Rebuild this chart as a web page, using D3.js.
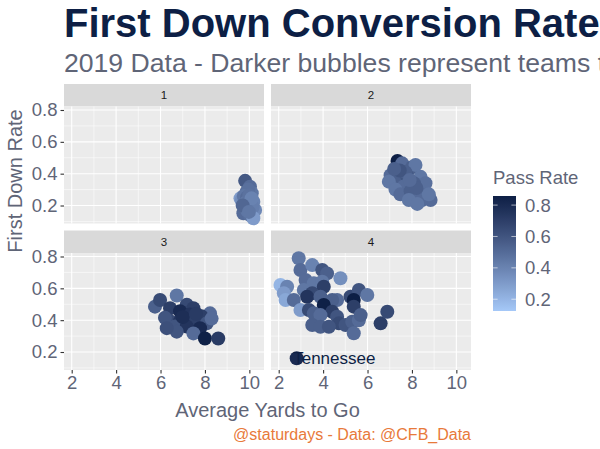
<!DOCTYPE html>
<html>
<head>
<meta charset="utf-8">
<script src="https://cdn.jsdelivr.net/npm/d3@7"></script>
<style>
  html, body { margin: 0; padding: 0; background: #fff; }
  svg { display: block; font-family: "Liberation Sans", Arial, sans-serif; }
</style>
</head>
<body>
<svg id="chart" width="600" height="449"></svg>
<script>
// ---------------- DATA ----------------
const downs = ["1", "2", "3", "4"];
const xTicks = [2, 4, 6, 8, 10];
const yTicks = [0.2, 0.4, 0.6, 0.8];
const legendTicks = [0.2, 0.4, 0.6, 0.8];

// Down 1
const down1Yards = [9.81, 10.03, 9.88, 10.11, 9.95, 9.6, 9.66, 9.75, 10.18, 9.9, 9.96, 10.05, 9.81, 10.26, 9.73, 9.92, 10.03, 10.15, 10.18, 9.85, 10.0, 10.1, 9.7, 9.98];
const down1Rate  = [0.355, 0.318, 0.287, 0.277, 0.30, 0.245, 0.235, 0.26, 0.224, 0.25, 0.203, 0.21, 0.183, 0.172, 0.151, 0.165, 0.14, 0.19, 0.12, 0.22, 0.265, 0.245, 0.2, 0.16];
const down1Pass  = [0.58, 0.5, 0.5, 0.45, 0.48, 0.3, 0.35, 0.45, 0.4, 0.5, 0.42, 0.45, 0.55, 0.38, 0.5, 0.45, 0.48, 0.42, 0.3, 0.45, 0.47, 0.4, 0.52, 0.45];

// Down 2
const down2Yards = [7.35, 7.56, 8.01, 8.16, 7.04, 7.34, 6.96, 7.79, 8.39, 8.61, 8.09, 7.63, 7.26, 7.48, 7.94, 8.31, 7.86, 8.46, 8.84, 8.76, 8.24, 7.7, 7.45, 8.2, 7.9, 7.2];
const down2Rate  = [0.48, 0.465, 0.44, 0.455, 0.39, 0.36, 0.35, 0.38, 0.38, 0.34, 0.34, 0.32, 0.30, 0.27, 0.29, 0.277, 0.235, 0.235, 0.235, 0.27, 0.21, 0.41, 0.42, 0.31, 0.36, 0.43];
const down2Pass  = [0.86, 0.5, 0.55, 0.45, 0.5, 0.55, 0.45, 0.6, 0.45, 0.48, 0.55, 0.5, 0.45, 0.5, 0.55, 0.5, 0.45, 0.5, 0.5, 0.45, 0.45, 0.55, 0.6, 0.55, 0.5, 0.55];

// Down 3
const down3Yards = [5.75, 5.98, 6.73, 6.43, 7.18, 7.48, 8.23, 6.88, 7.33, 7.85, 6.43, 6.2, 6.88, 7.48, 8.08, 8.3, 6.65, 7.18, 7.78, 6.73, 7.48, 8.0, 8.6, 6.28, 7.0, 7.6];
const down3Rate  = [0.485, 0.527, 0.555, 0.475, 0.497, 0.475, 0.443, 0.456, 0.435, 0.424, 0.393, 0.415, 0.393, 0.40, 0.38, 0.41, 0.36, 0.36, 0.35, 0.328, 0.317, 0.285, 0.285, 0.35, 0.42, 0.44];
const down3Pass  = [0.55, 0.65, 0.45, 0.7, 0.65, 0.7, 0.5, 0.8, 0.75, 0.7, 0.65, 0.6, 0.75, 0.7, 0.6, 0.5, 0.6, 0.75, 0.8, 0.6, 0.5, 0.85, 0.72, 0.62, 0.78, 0.72];

// Down 4
const down4Yards = [2.9, 2.98, 3.51, 3.96, 4.18, 4.78, 2.08, 2.38, 3.21, 3.58, 3.96, 2.23, 3.13, 3.51, 4.03, 2.31, 2.68, 3.28, 3.88, 4.63, 4.41, 5.23, 5.61, 5.99, 5.38, 5.38, 4.03, 2.98, 3.36, 3.58, 4.41, 4.63, 3.88, 3.51, 3.88, 4.71, 5.01, 5.31, 5.61, 5.38, 6.59, 6.89, 4.26, 5.69, 2.81];
const down4Rate  = [0.789, 0.715, 0.746, 0.715, 0.694, 0.663, 0.621, 0.61, 0.652, 0.632, 0.642, 0.569, 0.59, 0.569, 0.61, 0.527, 0.527, 0.547, 0.547, 0.527, 0.527, 0.547, 0.59, 0.558, 0.527, 0.485, 0.495, 0.464, 0.464, 0.443, 0.453, 0.422, 0.432, 0.37, 0.359, 0.38, 0.37, 0.39, 0.40, 0.318, 0.38, 0.453, 0.359, 0.432, 0.161];
const down4Pass  = [0.45, 0.5, 0.4, 0.6, 0.55, 0.35, 0.2, 0.4, 0.5, 0.45, 0.45, 0.3, 0.45, 0.65, 0.7, 0.25, 0.5, 0.75, 0.55, 0.5, 0.55, 0.65, 0.6, 0.45, 0.86, 0.7, 0.85, 0.3, 0.65, 0.55, 0.7, 0.6, 0.5, 0.55, 0.55, 0.65, 0.6, 0.55, 0.5, 0.5, 0.7, 0.65, 0.6, 0.55, 0.8];

const labelTeam = "Tennessee";
const labelDown = "4";
const labelIndex = 44;

const passRange = [0.125, 0.858];

// ---------------- CHART ----------------
const svg = d3.select("#chart");

const panelW = 200, panelH = 117, stripH = 22.5, gap = 7;
const left0 = 64, top0 = 84;

const x = d3.scaleLinear().domain([1.653, 10.66]).range([0, panelW]);
const y = d3.scaleLinear().domain([0.087, 0.822]).range([panelH, 0]);
const color = d3.scaleLinear().domain(passRange).range(["#a5c8f8", "#0d1f45"]).interpolate(d3.interpolateLab);

const series = {
  "1": { yards: down1Yards, rate: down1Rate, pass: down1Pass },
  "2": { yards: down2Yards, rate: down2Rate, pass: down2Pass },
  "3": { yards: down3Yards, rate: down3Rate, pass: down3Pass },
  "4": { yards: down4Yards, rate: down4Rate, pass: down4Pass }
};

const textGrey = "#5f6577";

// Title & subtitle
svg.append("text").attr("x", 64).attr("y", 37)
  .attr("font-size", 40).attr("font-weight", "bold").attr("fill", "#0d1f45")
  .text("First Down Conversion Rate");
svg.append("text").attr("x", 64).attr("y", 72)
  .attr("font-size", 26.6).attr("fill", textGrey)
  .text("2019 Data - Darker bubbles represent teams that");

downs.forEach((d, i) => {
  const col = i % 2, row = Math.floor(i / 2);
  const px = left0 + col * (panelW + gap);
  const sy = top0 + row * (stripH + panelH + gap);
  const py = sy + stripH;

  // strip
  svg.append("rect").attr("x", px).attr("y", sy).attr("width", panelW).attr("height", stripH).attr("fill", "#d9d9d9");
  svg.append("text").attr("x", px + panelW / 2).attr("y", sy + stripH / 2 + 4)
    .attr("text-anchor", "middle").attr("font-size", 11.5).attr("fill", "#1a1a1a").text(d);

  const g = svg.append("g").attr("transform", `translate(${px},${py})`);
  g.append("rect").attr("width", panelW).attr("height", panelH).attr("fill", "#ebebeb");

  // minor grid
  const xMinor = [3, 5, 7, 9];
  const yMinor = [0.1, 0.3, 0.5, 0.7];
  g.selectAll(".xm").data(xMinor).enter().append("line")
    .attr("x1", v => x(v)).attr("x2", v => x(v)).attr("y1", 0).attr("y2", panelH)
    .attr("stroke", "#fff").attr("stroke-width", 0.55);
  g.selectAll(".ym").data(yMinor).enter().append("line")
    .attr("y1", v => y(v)).attr("y2", v => y(v)).attr("x1", 0).attr("x2", panelW)
    .attr("stroke", "#fff").attr("stroke-width", 0.55);
  // major grid
  g.selectAll(".xM").data(xTicks).enter().append("line")
    .attr("x1", v => x(v)).attr("x2", v => x(v)).attr("y1", 0).attr("y2", panelH)
    .attr("stroke", "#fff").attr("stroke-width", 1.1);
  g.selectAll(".yM").data(yTicks).enter().append("line")
    .attr("y1", v => y(v)).attr("y2", v => y(v)).attr("x1", 0).attr("x2", panelW)
    .attr("stroke", "#fff").attr("stroke-width", 1.1);

  // points
  const s = series[d];
  const pts = s.yards.map((v, k) => ({ x: v, y: s.rate[k], p: s.pass[k], k }));
  g.selectAll("circle.pt").data(pts).enter().append("circle")
    .attr("class", "pt")
    .attr("cx", p => x(p.x)).attr("cy", p => y(p.y)).attr("r", 7)
    .attr("fill", p => color(p.p));

  if (d === labelDown) {
    const p = pts[labelIndex];
    g.append("text").attr("x", x(p.x)).attr("y", y(p.y)).attr("dx", -3.5).attr("dy", 6)
      .attr("font-size", 17).attr("fill", "#0d1f45").text(labelTeam);
  }

  // axes
  if (col === 0) {
    const ay = d3.axisLeft(y).tickValues(yTicks).tickSize(3.5).tickPadding(3).tickFormat(d3.format(".1f"));
    const ag = svg.append("g").attr("transform", `translate(${px},${py})`).call(ay);
    ag.select(".domain").remove();
    ag.selectAll("line").attr("stroke", "#333").attr("stroke-width", 1.1);
    ag.selectAll("text").attr("font-size", 18.5).attr("fill", textGrey).attr("font-family", "Liberation Sans, Arial, sans-serif");
  }
  if (row === 1) {
    const ax = d3.axisBottom(x).tickValues(xTicks).tickSize(3.5).tickPadding(2).tickFormat(d3.format("d"));
    const ag = svg.append("g").attr("transform", `translate(${px},${py + panelH})`).call(ax);
    ag.select(".domain").remove();
    ag.selectAll("line").attr("stroke", "#333").attr("stroke-width", 1.1);
    ag.selectAll("text").attr("font-size", 18.5).attr("fill", textGrey).attr("font-family", "Liberation Sans, Arial, sans-serif");
  }
});

const panelsRight = left0 + 2 * panelW + gap;

// axis titles
svg.append("text").attr("x", (left0 + panelsRight) / 2).attr("y", 417)
  .attr("text-anchor", "middle").attr("font-size", 20).attr("fill", textGrey).text("Average Yards to Go");
svg.append("text").attr("transform", `translate(22,181) rotate(-90)`)
  .attr("text-anchor", "middle").attr("font-size", 20).attr("fill", textGrey).text("First Down Rate");

// caption
svg.append("text").attr("x", panelsRight).attr("y", 440)
  .attr("text-anchor", "end").attr("font-size", 16).attr("fill", "#e8793a")
  .text("@staturdays - Data: @CFB_Data");

// legend
const lgX = 493, lgY = 196, lgW = 23, lgH = 115;
svg.append("text").attr("x", lgX).attr("y", 184).attr("font-size", 18.5).attr("fill", textGrey).text("Pass Rate");
const defs = svg.append("defs");
const grad = defs.append("linearGradient").attr("id", "lg").attr("x1", 0).attr("x2", 0).attr("y1", 1).attr("y2", 0);
d3.range(0, 1.0001, 0.05).forEach(t => {
  grad.append("stop").attr("offset", t).attr("stop-color", color(passRange[0] + t * (passRange[1] - passRange[0])));
});
svg.append("rect").attr("x", lgX).attr("y", lgY).attr("width", lgW).attr("height", lgH).attr("fill", "url(#lg)");
const ly = d3.scaleLinear().domain(passRange).range([lgY + lgH, lgY]);
const lt = svg.append("g");
legendTicks.forEach(v => {
  lt.append("line").attr("x1", lgX).attr("x2", lgX + 4.6).attr("y1", ly(v)).attr("y2", ly(v)).attr("stroke", "#fff").attr("stroke-opacity", 0.6);
  lt.append("line").attr("x1", lgX + lgW - 4.6).attr("x2", lgX + lgW).attr("y1", ly(v)).attr("y2", ly(v)).attr("stroke", "#fff").attr("stroke-opacity", 0.6);
  lt.append("text").attr("x", 525).attr("y", ly(v)).attr("dy", "0.35em").attr("font-size", 18.5).attr("fill", textGrey).text(v.toFixed(1));
});
</script>
</body>
</html>
